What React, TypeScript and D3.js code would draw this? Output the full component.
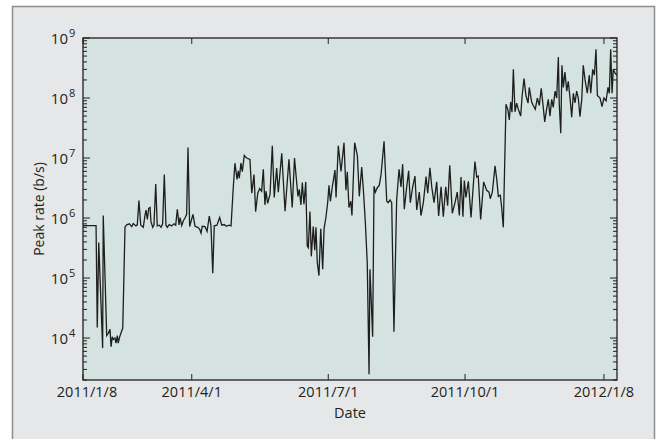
import React from 'react'
import * as d3 from 'd3'

// day index (sample position along the x axis) and peak rate in b/s
const day = [
  0, 8.7, 9.5, 10.5, 13.1, 13.5, 15.8, 16.9, 18, 18.7, 19.5, 20.2, 21.3, 22, 22.9, 23.5, 24.2, 25.1, 26.5,
  28, 29.1, 30.9, 32.5, 33.5, 35.3, 36.2, 37.3, 38.5, 40.2, 41.3, 42, 42.9, 43.8, 44.7, 45.3, 46.5, 47.3,
  48.5, 49.5, 50.9, 52, 53.1, 54.2, 55.3, 56.2, 57.5, 59.1, 60.7, 61.8, 62.9, 64, 64.7, 65.8, 66.9, 68,
  69.1, 70, 71.1, 73.3, 74.7, 76.5, 77.8, 78.7, 79.5, 81.3, 82.7, 84.2, 85.3, 86.5, 87.5, 89.3, 91.1, 92.5,
  94.2, 95.5, 97.3, 98.7, 100.2, 101.3, 102.7, 103.5, 104.2, 105.3, 106.2, 107.5, 109.1, 111.3, 112.5, 114,
  115.1, 116.5, 117.8, 119.1, 120.2, 121.3, 122, 123.1, 124.7, 126.2, 127.5, 129.1, 130.2, 132.5, 134.7,
  137.3, 139.5, 141, 143.3, 144.2, 145.3, 146.2, 147.3, 148.5, 149.5, 150.2, 151.3, 152.2, 153.5, 154.5,
  155.3, 156.2, 157.3, 158.5, 159.8, 160.7, 162, 163.1, 164, 164.9, 166.2, 168, 168.7, 170.2, 172, 174,
  175.3, 176.2, 177.3, 178.5, 179.3, 181.1, 182.9, 184.2, 185.8, 186.9, 188.2, 189.5, 190.7, 191.3, 192.2,
  193.1, 194, 194.9, 196.2, 197.5, 198.7, 200.7, 202.5, 203.5, 204.7, 205.8, 207.3, 209.1, 210.7, 212,
  213.1, 214.2, 215.8, 217.1, 218.2, 219.8, 221.3, 222.5, 224.2, 225.3, 226.9, 228.7, 229.8, 231.3, 232.5,
  234, 235.8, 237.1, 238.7, 240.2, 241.8, 243.1, 244.5, 246.2, 248, 249.5, 250.9, 252, 253.3, 254.2, 255.3,
  256.9, 258.7, 261.3, 262.5, 263.5, 265.1, 267.1, 269.1, 270.7, 271.5, 272.9, 274.7, 275.8, 276.9, 278.2,
  279.1, 280.2, 282, 283.3, 284.2, 285.1, 286, 286.9, 288, 289.1, 290.2, 291.8, 292.7, 294, 295.3, 296.7,
  297.5, 299.1, 300.2, 301.5, 302.9, 304.2, 305.5, 306.9, 307.8, 309.1, 310.2, 311.3, 312.5, 313.5, 314.7,
  315.8, 316.9, 317.5, 318.5, 319.3, 320.2, 321.3, 322.5, 323.5, 324.7, 325.8, 326.9, 328, 329.1, 330.2,
  331.3, 332.5, 333.5, 334.7, 336.2, 337.5, 338.5, 339.8, 340.9, 342, 342.9, 344.7, 346, 347.3, 348.7, 350,
  350.9, 351.8, 352.7, 353.5, 354.7, 356,
]
const rate = [
  7.5e5, 7.5e5, 1.5e4, 3.9e5, 6.8e3, 1.1e6, 1.1e4, 1.2e4, 1.4e4, 7.2e3, 1.05e4, 9.5e3, 1e4, 8.2e3, 1.1e4, 8.2e3, 1e4, 1.17e4, 1.47e4,
  7.1e5, 7.7e5, 8e5, 7.2e5, 8.1e5, 7.4e5, 7.7e5, 1.96e6, 7.6e5, 7e5, 1.1e6, 1.36e6, 9.5e5, 1.45e6, 1.5e6, 8.7e5, 7e5, 7.6e5,
  3.7e6, 7.4e5, 7.6e5, 7e5, 8e5, 5.3e6, 7.6e5, 7e5, 7.8e5, 7.4e5, 8e5, 7.6e5, 1.4e6, 7.7e5, 1.02e6, 7.5e5, 9e5, 1e6,
  1.15e6, 1.5e7, 7.2e5, 1.15e6, 7.3e5, 7e5, 6.5e5, 5.6e5, 7.3e5, 7.2e5, 6e5, 1.08e6, 7.5e5, 1.2e5, 7.4e5, 7.6e5, 1.02e6, 7.6e5,
  7.8e5, 7.3e5, 7.6e5, 7.4e5, 3.3e6, 8.2e6, 4.4e6, 6.1e6, 4.6e6, 8.2e6, 5.9e6, 1.1e7, 1e7, 9.5e6, 2.6e6, 5.3e6,
  1.28e6, 2.6e6, 3.1e6, 2.8e6, 6.5e6, 1.65e6, 2.8e6, 1.75e6, 2.5e6, 1.6e7, 2.2e6, 6.8e6, 2.7e6, 1.2e7, 1.3e6,
  9.5e6, 1.5e6, 1e7, 2.3e6, 3e6, 1.65e6, 3.9e6, 1.7e6, 4e6, 3.4e5, 3.2e5, 1.28e6, 2.3e5, 7.2e5, 2.9e5,
  7e5, 1.8e5, 1.1e5, 6.6e5, 1.4e5, 6.6e5, 1.05e6, 1.8e6, 3.5e6, 1.9e6, 3.3e6, 6.3e6, 2.2e6, 1.6e7, 6e6, 1.8e7,
  2.9e6, 5.9e6, 1.5e6, 1.9e6, 1.1e6, 1.8e7, 1.1e7, 2.3e6, 7.1e6, 3e6, 8.7e5, 1.8e5, 2.5e3, 1.4e5, 4e4,
  1.05e4, 3.4e6, 2.7e6, 3.2e6, 3.5e6, 5.3e6, 1.9e7, 1.9e6, 1.8e6, 2e6, 1.8e6, 1.27e4, 2e6, 6.5e6, 3.3e6,
  7.9e6, 1.4e6, 3.3e6, 6.1e6, 1.8e6, 3.3e6, 5e6, 1.36e6, 2.7e6, 1.1e6, 1.8e6, 4.9e6, 2.6e6, 6.9e6, 3.3e6,
  1.8e6, 4e6, 1.08e6, 3.3e6, 1.05e6, 3.3e6, 1.6e6, 7.6e6, 1.2e6, 1.8e6, 2.7e6, 1.1e6, 4.8e6, 1.05e6, 4.2e6, 2.2e6,
  4.1e6, 1.02e6, 8.7e6, 4.8e6, 5e6, 9.5e5, 4e6, 2.9e6, 2.7e6, 2.1e6, 2.7e6, 7.4e6, 4.5e6, 2.3e6, 2.4e6,
  1.5e6, 7e5, 7.9e7, 6.3e7, 4.3e7, 8.6e7, 5.8e7, 3e8, 5.9e7, 8.2e7, 6.5e7, 5e7, 1.05e8, 2.1e8, 1.1e8, 8.2e7,
  1.5e8, 8.6e7, 7.5e7, 6.5e7, 1e8, 7.5e7, 1.45e8, 6.8e7, 4e7, 6.6e7, 9.5e7, 5e7, 9.5e7, 7e7, 1.3e8,
  1e8, 4.8e8, 8e7, 2.6e7, 3.5e8, 1.5e8, 2.7e8, 1.3e8, 1.9e8, 1e8, 4.8e7, 1.2e8, 8.3e7, 1.3e8, 1e8,
  4.9e7, 9.5e7, 3.5e8, 2e8, 1.2e8, 2.4e8, 1.2e8, 3e8, 2.4e8, 6.5e8, 1.1e8, 1e8, 7.2e7, 1e8, 9e7, 1.5e8,
  1.2e8, 6.5e8, 1.2e8, 3e8, 2.6e8, 2.4e8,
]

const tickDay = [0, 72.5, 163.5, 254.7, 347.3]
const tickLabel = ['2011/1/8', '2011/4/1', '2011/7/1', '2011/10/1', '2012/1/8']
const decades = [4, 5, 6, 7, 8, 9]

const W = 658
const H = 439
const margin = { top: 38, right: 41, bottom: 59, left: 83 }
const FONT = '"Open Sans", "Liberation Sans", sans-serif'
const INK = '#231f20'

export default function App() {
  const innerW = W - margin.left - margin.right
  const innerH = H - margin.top - margin.bottom

  const x = d3.scaleLinear().domain([0, 356]).range([margin.left, margin.left + innerW])
  const y = d3.scaleLog().domain([2000, 1e9]).range([margin.top + innerH, margin.top])

  const points = day.map((d, i) => ({ d, v: rate[i] }))
  const line = d3
    .line<{ d: number; v: number }>()
    .x(p => x(p.d))
    .y(p => y(p.v))

  const x0 = margin.left
  const x1 = margin.left + innerW
  const y0 = margin.top + innerH
  const y1 = margin.top

  const minor = y.ticks().filter(t => Math.abs(Math.log10(t) - Math.round(Math.log10(t))) > 1e-6)

  return (
    <svg width={W} height={H} style={{ position: 'absolute', left: 0, top: 0, background: '#fff' }}>
      <rect x={12.5} y={6.5} width={642} height={450} fill="#e6e7e8" stroke="#8c8c8c" strokeWidth={1.5} />
      <defs>
        <clipPath id="plot-clip">
          <rect x={x0} y={y1} width={innerW} height={innerH} />
        </clipPath>
      </defs>
      <rect x={x0} y={y1} width={innerW} height={innerH} fill="#d4e3e0" />

      <path d={line(points) || ''} fill="none" stroke="#1e1e1e" strokeWidth={1.3} clipPath="url(#plot-clip)" />

      {/* y ticks, inside, both sides */}
      <g stroke={INK} strokeWidth={1}>
        {minor.map(t => (
          <g key={'m' + t}>
            <line x1={x0} x2={x0 + 4} y1={y(t)} y2={y(t)} />
            <line x1={x1} x2={x1 - 4} y1={y(t)} y2={y(t)} />
          </g>
        ))}
        {decades.map(e => (
          <g key={'M' + e}>
            <line x1={x0} x2={x0 + 7} y1={y(10 ** e)} y2={y(10 ** e)} />
            <line x1={x1} x2={x1 - 7} y1={y(10 ** e)} y2={y(10 ** e)} />
          </g>
        ))}
        {tickDay.map(d => (
          <g key={'x' + d}>
            <line x1={x(d)} x2={x(d)} y1={y0} y2={y0 - 6} />
            <line x1={x(d)} x2={x(d)} y1={y1} y2={y1 + 6} />
          </g>
        ))}
      </g>

      <rect x={x0} y={y1} width={innerW} height={innerH} fill="none" stroke={INK} strokeWidth={1.3} />

      <g fontFamily={FONT} fill={INK}>
        {decades.map(e => (
          <text key={'l' + e} x={x0 - 15} y={y(10 ** e) + 5.5} fontSize={15} textAnchor="end">
            10
            <tspan x={x0 - 14} dy={-7} fontSize={11} textAnchor="start">
              {e}
            </tspan>
          </text>
        ))}
        {tickDay.map((d, i) => (
          <text key={'t' + i} x={x(d) + (i === 0 ? 4 : 0)} y={y0 + 17} fontSize={14.5} textAnchor="middle">
            {tickLabel[i]}
          </text>
        ))}
        <text x={(x0 + x1) / 2} y={y0 + 38} fontSize={14.5} textAnchor="middle">
          Date
        </text>
        <text
          transform={`translate(44,${(y0 + y1) / 2}) rotate(-90)`}
          fontSize={14}
          textAnchor="middle"
        >
          Peak rate (b/s)
        </text>
      </g>
    </svg>
  )
}
